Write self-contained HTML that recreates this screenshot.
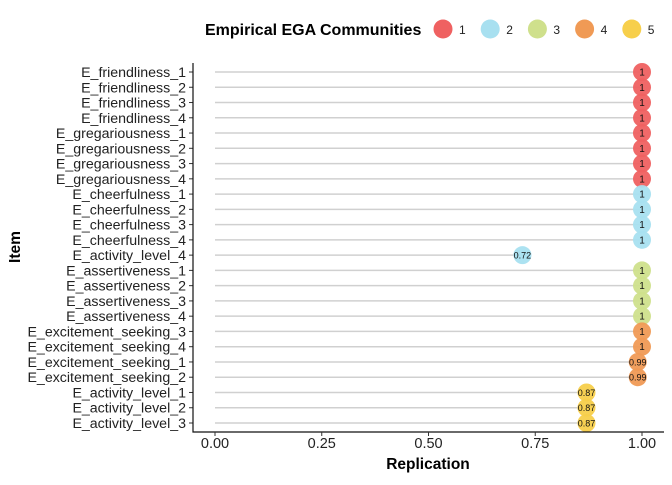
<!DOCTYPE html>
<html><head><meta charset="utf-8"><style>
body{margin:0;background:#fff}
text{font-family:"Liberation Sans",Arial,sans-serif}
</style></head><body>
<svg id="c" width="672" height="480" xmlns="http://www.w3.org/2000/svg"></svg>
<script>
const items=["E_friendliness_1","E_friendliness_2","E_friendliness_3","E_friendliness_4","E_gregariousness_1","E_gregariousness_2","E_gregariousness_3","E_gregariousness_4","E_cheerfulness_1","E_cheerfulness_2","E_cheerfulness_3","E_cheerfulness_4","E_activity_level_4","E_assertiveness_1","E_assertiveness_2","E_assertiveness_3","E_assertiveness_4","E_excitement_seeking_3","E_excitement_seeking_4","E_excitement_seeking_1","E_excitement_seeking_2","E_activity_level_1","E_activity_level_2","E_activity_level_3"];
const values=[1,1,1,1,1,1,1,1,1,1,1,1,0.72,1,1,1,1,1,1,0.99,0.99,0.87,0.87,0.87];
const communities=[1,1,1,1,1,1,1,1,2,2,2,2,2,3,3,3,3,4,4,4,4,5,5,5];
const xTicks=[0,0.25,0.5,0.75,1];
const xTickLabels=["0.00","0.25","0.50","0.75","1.00"];
const legendKeys=[1,2,3,4,5];
const colors={1:"#EF6161",2:"#A8E0F0",3:"#CFE08C",4:"#F09A55",5:"#F7CF4B"};
const NS="http://www.w3.org/2000/svg";
const svg=document.getElementById('c');
function mk(t,a,p){const e=document.createElementNS(NS,t);for(const k in a)e.setAttribute(k,a[k]);(p||svg).appendChild(e);return e;}
const x0=215,x1=642,yTop=72,yBot=423;
const xs=v=>x0+(x1-x0)*v;
const ys=i=>yTop+(yBot-yTop)*i/(items.length-1);
items.forEach((it,i)=>{
 const y=ys(i);
 const ln=mk('line',{x1:xs(0),x2:xs(values[i]),y1:y,y2:y,stroke:"#d0d0d0","stroke-width":1.5});
 
 
 const tk=mk('line',{x1:189,x2:193,y1:y,y2:y,stroke:"#333"});
 
 
 const lb=mk('text',{x:186,y:y+5,"text-anchor":"end","font-size":14.2,fill:"#222"});lb.textContent=it;
 
 
});
items.forEach((it,i)=>{
 const y=ys(i);
 const c=mk('circle',{cx:xs(values[i]),cy:y,r:9,fill:colors[communities[i]],"fill-opacity":0.95});
 
 
 const t=mk('text',{x:xs(values[i]),y:y+3.5,"text-anchor":"middle","font-size":values[i]===1?10:9,fill:"#111"});t.textContent=String(values[i]);
 
 
});
const ax=mk('path',{d:"M193,63V432H664",fill:"none",stroke:"#111","stroke-width":1.2});


xTicks.forEach((v,i)=>{
 const tk=mk('line',{x1:xs(v),x2:xs(v),y1:432,y2:436,stroke:"#333"});
 
 
 const t=mk('text',{x:xs(v),y:448,"text-anchor":"middle","font-size":14.5,fill:"#222"});t.textContent=xTickLabels[i];
 
 
});
const xt=mk('text',{x:428,y:469,"text-anchor":"middle","font-size":15.5,"font-weight":"bold"});xt.textContent="Replication";


const yt=mk('text',{x:20,y:247,"text-anchor":"middle","font-size":15.5,"font-weight":"bold",transform:"rotate(-90 20 247)"});yt.textContent="Item";


const lt=mk('text',{x:205,y:35,"font-size":16,"font-weight":"bold"});lt.textContent="Empirical EGA Communities";


legendKeys.forEach((k,i)=>{
 const cx=443+i*47.2;
 const c=mk('circle',{cx:cx,cy:29,r:9.5,fill:colors[k]});
 
 
 const t=mk('text',{x:cx+16,y:34,"font-size":12,fill:"#222"});t.textContent=k;
 
 
});
</script>
</body></html>
